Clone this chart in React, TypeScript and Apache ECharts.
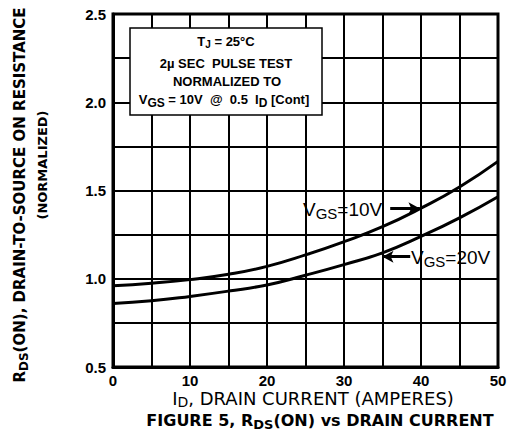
import React, { useEffect, useRef } from "react";
import * as echarts from "echarts";

const currents = [0, 5, 10, 15, 20, 25, 30, 35, 40, 45, 50];
const vgs10 = [0.96, 0.975, 0.995, 1.025, 1.07, 1.135, 1.21, 1.295, 1.4, 1.52, 1.665];
const vgs20 = [0.86, 0.875, 0.9, 0.93, 0.965, 1.02, 1.08, 1.147, 1.24, 1.345, 1.465];
const arrow10 = [[36.0, 1.4], [39.8, 1.4]];
const arrow20 = [[38.6, 1.125], [35.0, 1.125]];

const FONT = "'Liberation Sans', Arial, sans-serif";
const DJ = "'DejaVu Sans', sans-serif";

export default function App() {
  const ref = useRef<HTMLDivElement>(null);
  useEffect(() => {
    const chart = echarts.init(ref.current!, null, { renderer: "svg" });
    const sub = (size: number, pad: number, family = FONT, weight = "bold") => ({
      fontSize: size,
      fontWeight: weight,
      fontFamily: family,
      color: "#000",
      padding: [pad, 0, 0, 0],
    });
    chart.setOption({
      animation: false,
      backgroundColor: "#fff",
      grid: {
        left: 113,
        top: 14,
        right: 17,
        bottom: 66,
        show: true,
        borderColor: "#000",
        borderWidth: 3,
      },
      xAxis: {
        type: "value",
        min: 0,
        max: 50,
        interval: 5,
        axisLine: { show: true, lineStyle: { color: "#000", width: 3 } },
        axisTick: { show: false },
        axisLabel: {
          margin: 6,
          color: "#000",
          fontSize: 15,
          fontWeight: "bold",
          fontFamily: FONT,
          formatter: (v: number) => (v % 10 === 0 ? String(v) : ""),
        },
        splitLine: { show: true, lineStyle: { color: "#000", width: 2 } },
      },
      yAxis: {
        type: "value",
        min: 0.5,
        max: 2.5,
        interval: 0.25,
        axisLine: { show: true, lineStyle: { color: "#000", width: 3 } },
        axisTick: { show: false },
        axisLabel: {
          margin: 7,
          color: "#000",
          fontSize: 15,
          fontWeight: "bold",
          fontFamily: FONT,
          formatter: (v: number) =>
            Math.abs(v * 2 - Math.round(v * 2)) < 1e-6 ? v.toFixed(1) : "",
        },
        splitLine: { show: true, lineStyle: { color: "#000", width: 2 } },
      },
      series: [
        {
          type: "line",
          name: "VGS=10V",
          data: currents.map((x, i) => [x, vgs10[i]]),
          smooth: true,
          showSymbol: false,
          lineStyle: { color: "#000", width: 3 },
          z: 5,
          markLine: {
            silent: true,
            symbol: ["none", "arrow"],
            symbolSize: [9, 11],
            label: { show: false },
            lineStyle: { color: "#000", width: 3, type: "solid" },
            data: [[{ coord: arrow10[0] }, { coord: arrow10[1] }]],
          },
        },
        {
          type: "line",
          name: "VGS=20V",
          data: currents.map((x, i) => [x, vgs20[i]]),
          smooth: true,
          showSymbol: false,
          lineStyle: { color: "#000", width: 3 },
          z: 5,
          markLine: {
            silent: true,
            symbol: ["none", "arrow"],
            symbolSize: [9, 11],
            label: { show: false },
            lineStyle: { color: "#000", width: 3, type: "solid" },
            data: [[{ coord: arrow20[0] }, { coord: arrow20[1] }]],
          },
        },
      ],
      graphic: [
        {
          type: "rect",
          z: 100,
          shape: { x: 130, y: 28, width: 192, height: 87 },
          style: { fill: "#fff", stroke: "#000", lineWidth: 1.5 },
        },
        {
          type: "text",
          z: 101,
          x: 226,
          y: 41,
          style: {
            text: "T{s|J} = 25°C",
            align: "center",
            verticalAlign: "middle",
            fontSize: 13,
            fontWeight: "bold",
            fontFamily: FONT,
            fill: "#000",
            rich: { s: sub(10, 7) },
          },
        },
        {
          type: "text",
          z: 101,
          x: 226,
          y: 63,
          style: {
            text: "2µ SEC  PULSE TEST",
            align: "center",
            verticalAlign: "middle",
            fontSize: 13,
            fontWeight: "bold",
            fontFamily: FONT,
            fill: "#000",
          },
        },
        {
          type: "text",
          z: 101,
          x: 227,
          y: 81,
          style: {
            text: "NORMALIZED TO",
            align: "center",
            verticalAlign: "middle",
            fontSize: 13,
            fontWeight: "bold",
            fontFamily: FONT,
            fill: "#000",
          },
        },
        {
          type: "text",
          z: 101,
          x: 224,
          y: 99,
          style: {
            text: "V{s|GS} = 10V  @  0.5  I{s|D} [Cont]",
            align: "center",
            verticalAlign: "middle",
            fontSize: 13,
            fontWeight: "bold",
            fontFamily: FONT,
            fill: "#000",
            rich: { s: sub(12, 8) },
          },
        },
        {
          type: "text",
          z: 101,
          x: 303,
          y: 209,
          style: {
            text: "V{s|GS}=10V",
            align: "left",
            verticalAlign: "middle",
            fontSize: 19,
            fontFamily: FONT,
            fill: "#000",
            rich: { s: sub(15, 9, FONT, "normal") },
          },
        },
        {
          type: "text",
          z: 101,
          x: 411,
          y: 257,
          style: {
            text: "V{s|GS}=20V",
            align: "left",
            verticalAlign: "middle",
            fontSize: 19,
            fontFamily: FONT,
            fill: "#000",
            rich: { s: sub(15, 9, FONT, "normal") },
          },
        },
        {
          type: "text",
          z: 101,
          x: 313,
          y: 398,
          style: {
            text: "I{s|D}, DRAIN CURRENT (AMPERES)",
            align: "center",
            verticalAlign: "middle",
            fontSize: 18,
            fontFamily: DJ,
            fill: "#000",
            rich: { s: sub(14, 8, DJ, "normal") },
          },
        },
        {
          type: "text",
          z: 101,
          x: 320,
          y: 420,
          style: {
            text: "FIGURE 5, R{s|DS}(ON) vs DRAIN CURRENT",
            align: "center",
            verticalAlign: "middle",
            fontSize: 16,
            fontWeight: "bold",
            fontFamily: DJ,
            fill: "#000",
            rich: { s: sub(13, 8, DJ, "bold") },
          },
        },
        {
          type: "text",
          z: 101,
          x: 20,
          y: 195,
          rotation: Math.PI / 2,
          style: {
            text: "R{s|DS}(ON), DRAIN-TO-SOURCE ON RESISTANCE",
            align: "center",
            verticalAlign: "middle",
            fontSize: 15,
            fontWeight: "bold",
            fontFamily: DJ,
            fill: "#000",
            rich: { s: sub(12, 8, DJ, "bold") },
          },
        },
        {
          type: "text",
          z: 101,
          x: 42,
          y: 165,
          rotation: Math.PI / 2,
          style: {
            text: "(NORMALIZED)",
            align: "center",
            verticalAlign: "middle",
            fontSize: 13,
            fontWeight: "bold",
            fontFamily: DJ,
            fill: "#000",
          },
        },
      ],
    });
    return () => chart.dispose();
  }, []);
  return (
    <div
      ref={ref}
      style={{ position: "fixed", left: 0, top: 0, width: 515, height: 433, background: "#fff" }}
    />
  );
}
